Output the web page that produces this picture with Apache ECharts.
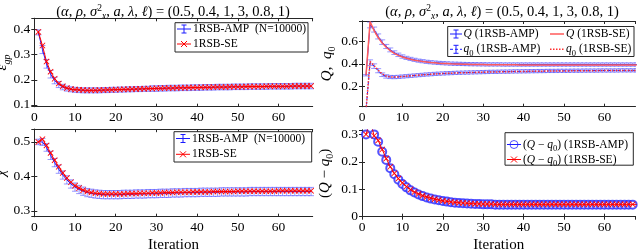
<!DOCTYPE html>
<html><head><meta charset="utf-8">
<script src="https://cdn.jsdelivr.net/npm/echarts@6/dist/echarts.min.js"></script>
<style>html,body{margin:0;padding:0;background:#fff}#c{width:640px;height:249px}</style>
</head><body><div id="c"></div>
<script>
// ---------------- data ----------------
const iterations = [1,2,3,4,5,6,7,8,9,10,11,12,13,14,15,16,17,18,19,20,21,22,23,24,25,26,27,28,29,30,
  31,32,33,34,35,36,37,38,39,40,41,42,43,44,45,46,47,48,49,50,51,52,53,54,55,56,57,58,59,60,
  61,62,63,64,65,66,67,68];

// top-left: eps_gp
const epsSE = [0.390,0.336,0.272,0.232,0.204,0.185,0.174,0.167,0.163,0.161,
  0.160,0.159,0.158,0.158,0.158,0.159,0.159,0.160,0.160,0.161,
  0.161,0.162,0.162,0.163,0.163,0.164,0.164,0.165,0.165,0.166,
  0.166,0.167,0.167,0.167,0.168,0.168,0.168,0.169,0.169,0.169,
  0.170,0.170,0.170,0.171,0.171,0.171,0.171,0.172,0.172,0.172,
  0.172,0.173,0.173,0.173,0.173,0.173,0.174,0.174,0.174,0.174,
  0.174,0.174,0.175,0.175,0.175,0.175,0.175,0.175];
const epsAMP = [0.388,0.320,0.263,0.222,0.197,0.181,0.171,0.165,0.162,0.160,
  0.159,0.158,0.158,0.158,0.158,0.158,0.159,0.159,0.160,0.160,
  0.161,0.161,0.162,0.162,0.163,0.163,0.164,0.164,0.165,0.165,
  0.166,0.166,0.167,0.167,0.167,0.168,0.168,0.168,0.169,0.169,
  0.169,0.170,0.170,0.170,0.171,0.171,0.171,0.171,0.172,0.172,
  0.172,0.172,0.173,0.173,0.173,0.173,0.173,0.174,0.174,0.174,
  0.174,0.174,0.174,0.175,0.175,0.175,0.175,0.175];
const epsAMPerr = [0.010,0.016,0.017,0.015,0.013,0.012,0.011,0.010,0.010,0.010,
  0.010,0.010,0.010,0.010,0.010,0.010,0.010,0.010,0.010,0.010,
  0.010,0.010,0.010,0.010,0.010,0.010,0.010,0.010,0.011,0.011,
  0.011,0.011,0.011,0.011,0.011,0.011,0.011,0.011,0.011,0.011,
  0.011,0.011,0.011,0.011,0.011,0.011,0.011,0.011,0.011,0.011,
  0.011,0.011,0.011,0.011,0.011,0.011,0.011,0.011,0.011,0.011,
  0.011,0.011,0.011,0.011,0.011,0.011,0.011,0.011];

// bottom-left: chi
const chiSE = [0.500,0.508,0.490,0.468,0.447,0.428,0.410,0.395,0.383,0.373,
  0.366,0.360,0.356,0.353,0.351,0.350,0.349,0.349,0.349,0.349,
  0.349,0.349,0.350,0.350,0.350,0.351,0.351,0.351,0.352,0.352,
  0.352,0.353,0.353,0.353,0.354,0.354,0.354,0.354,0.355,0.355,
  0.355,0.355,0.355,0.356,0.356,0.356,0.356,0.356,0.356,0.357,
  0.357,0.357,0.357,0.357,0.357,0.357,0.357,0.357,0.357,0.358,
  0.358,0.358,0.358,0.358,0.358,0.358,0.358,0.358];
const chiAMP = [0.500,0.500,0.484,0.461,0.440,0.421,0.404,0.390,0.378,0.369,
  0.362,0.357,0.353,0.351,0.349,0.348,0.347,0.347,0.347,0.347,
  0.347,0.348,0.348,0.348,0.349,0.349,0.349,0.350,0.350,0.350,
  0.351,0.351,0.351,0.352,0.352,0.352,0.353,0.353,0.353,0.353,
  0.354,0.354,0.354,0.354,0.354,0.355,0.355,0.355,0.355,0.355,
  0.355,0.355,0.356,0.356,0.356,0.356,0.356,0.356,0.356,0.356,
  0.356,0.356,0.356,0.356,0.356,0.356,0.356,0.356];
const chiAMPerr = [0.008,0.010,0.011,0.012,0.012,0.012,0.012,0.012,0.012,0.012,
  0.012,0.012,0.012,0.012,0.012,0.012,0.012,0.012,0.012,0.012,
  0.012,0.012,0.012,0.012,0.012,0.012,0.012,0.012,0.012,0.012,
  0.012,0.012,0.012,0.012,0.012,0.012,0.012,0.012,0.012,0.012,
  0.012,0.012,0.012,0.012,0.012,0.012,0.012,0.012,0.012,0.012,
  0.012,0.012,0.012,0.012,0.012,0.012,0.012,0.012,0.012,0.012,
  0.012,0.012,0.012,0.012,0.012,0.012,0.012,0.012];

// top-right: Q and q0
const QSE = [0.300,0.770,0.690,0.630,0.582,0.545,0.515,0.492,0.474,0.460,
  0.449,0.440,0.432,0.426,0.420,0.416,0.412,0.409,0.406,0.404,
  0.402,0.400,0.399,0.398,0.397,0.396,0.395,0.395,0.394,0.394,
  0.393,0.393,0.393,0.392,0.392,0.392,0.392,0.392,0.391,0.391,
  0.391,0.391,0.391,0.391,0.391,0.391,0.391,0.391,0.391,0.391,
  0.391,0.391,0.391,0.391,0.391,0.391,0.391,0.391,0.391,0.391,
  0.391,0.391,0.391,0.391,0.391,0.391,0.391,0.391];
const QAMP = [0.300,0.740,0.700,0.640,0.590,0.552,0.522,0.498,0.479,0.464,
  0.452,0.443,0.435,0.428,0.423,0.418,0.414,0.411,0.408,0.406,
  0.404,0.402,0.401,0.400,0.399,0.398,0.397,0.397,0.396,0.396,
  0.395,0.395,0.395,0.395,0.394,0.394,0.394,0.394,0.394,0.394,
  0.394,0.394,0.394,0.394,0.394,0.394,0.394,0.394,0.394,0.394,
  0.394,0.394,0.394,0.394,0.394,0.394,0.394,0.394,0.394,0.394,
  0.394,0.394,0.394,0.394,0.394,0.394,0.394,0.394];
const QAMPerr = [0.006,0.025,0.022,0.022,0.020,0.018,0.017,0.016,0.015,0.015,
  0.014,0.014,0.014,0.014,0.014,0.014,0.014,0.014,0.014,0.014,
  0.014,0.014,0.014,0.014,0.014,0.014,0.014,0.014,0.014,0.014,
  0.014,0.014,0.014,0.014,0.014,0.014,0.014,0.014,0.014,0.014,
  0.014,0.014,0.014,0.014,0.014,0.014,0.014,0.014,0.014,0.014,
  0.014,0.014,0.014,0.014,0.014,0.014,0.014,0.014,0.014,0.014,
  0.014,0.014,0.014,0.014,0.014,0.014,0.014,0.014];
const q0SE = [0.000,0.420,0.385,0.345,0.312,0.293,0.286,0.284,0.286,0.289,
  0.292,0.295,0.298,0.301,0.304,0.306,0.309,0.311,0.313,0.315,
  0.317,0.318,0.320,0.321,0.322,0.323,0.324,0.325,0.326,0.327,
  0.328,0.329,0.329,0.330,0.331,0.331,0.332,0.333,0.333,0.334,
  0.334,0.335,0.335,0.336,0.336,0.337,0.337,0.337,0.338,0.338,
  0.338,0.339,0.339,0.339,0.340,0.340,0.340,0.340,0.341,0.341,
  0.341,0.341,0.341,0.342,0.342,0.342,0.342,0.342];
const q0AMP = [0.000,0.410,0.380,0.340,0.305,0.290,0.285,0.284,0.286,0.289,
  0.292,0.295,0.298,0.301,0.304,0.307,0.309,0.312,0.314,0.316,
  0.318,0.319,0.321,0.322,0.323,0.324,0.325,0.326,0.327,0.328,
  0.329,0.330,0.330,0.331,0.332,0.332,0.333,0.334,0.334,0.335,
  0.335,0.336,0.336,0.337,0.337,0.338,0.338,0.338,0.339,0.339,
  0.339,0.340,0.340,0.340,0.341,0.341,0.341,0.341,0.342,0.342,
  0.342,0.342,0.342,0.343,0.343,0.343,0.343,0.343];
const q0AMPerr = [0.000,0.025,0.020,0.018,0.016,0.015,0.014,0.014,0.014,0.014,
  0.014,0.014,0.014,0.014,0.014,0.014,0.014,0.014,0.014,0.014,
  0.014,0.014,0.014,0.014,0.014,0.014,0.014,0.014,0.014,0.014,
  0.014,0.014,0.014,0.014,0.014,0.014,0.014,0.014,0.014,0.014,
  0.014,0.014,0.014,0.014,0.014,0.014,0.014,0.014,0.014,0.014,
  0.014,0.014,0.014,0.014,0.014,0.014,0.014,0.014,0.014,0.014,
  0.014,0.014,0.014,0.014,0.014,0.014,0.014,0.014];

// bottom-right: Q - q0
const diffAMP = [0.300,0.345,0.300,0.273,0.237,0.207,0.177,0.155,0.135,0.119,
  0.107,0.096,0.088,0.081,0.075,0.070,0.066,0.063,0.060,0.057,
  0.055,0.053,0.051,0.050,0.049,0.048,0.047,0.046,0.046,0.045,
  0.045,0.045,0.044,0.044,0.044,0.044,0.044,0.044,0.044,0.044,
  0.044,0.044,0.044,0.044,0.044,0.044,0.044,0.044,0.044,0.044,
  0.044,0.044,0.044,0.044,0.044,0.044,0.044,0.044,0.044,0.044,
  0.044,0.044,0.044,0.044,0.044,0.044,0.044,0.044];
const diffSE = [0.300,0.350,0.295,0.278,0.245,0.212,0.182,0.158,0.139,0.123,
  0.110,0.099,0.090,0.083,0.077,0.072,0.068,0.064,0.061,0.058,
  0.056,0.054,0.052,0.051,0.050,0.049,0.048,0.047,0.047,0.046,
  0.046,0.046,0.045,0.045,0.045,0.045,0.045,0.045,0.045,0.045,
  0.045,0.045,0.045,0.045,0.045,0.045,0.045,0.045,0.045,0.045,
  0.045,0.045,0.045,0.045,0.045,0.045,0.045,0.045,0.045,0.045,
  0.045,0.045,0.045,0.045,0.045,0.045,0.045,0.045];

const xTicks = [0,10,20,30,40,50,60];

// ---------------- chart ----------------
const FONT = '"Liberation Serif", "DejaVu Serif", serif';
const AX = '#262626';
const BLUE = '#1a1aff';
const EBLUE = 'rgba(70,70,255,0.55)';
const RED = '#ff0000';
const XPATH = 'path://M0,1L1,0L5,4L9,0L10,1L6,5L10,9L9,10L5,6L1,10L0,9L4,5Z';

const pts = arr => iterations.map((x,i)=>[x, arr[i]]);
const bars = (m,e) => iterations.map((x,i)=>[x, m[i]-e[i], m[i]+e[i]]);

function errRender(color){
  return function(params, api){
    const x = api.value(0), lo = api.value(1), hi = api.value(2);
    const a = api.coord([x, lo]), b = api.coord([x, hi]);
    const hw = 3, st = {stroke: color, lineWidth: 1};
    return {type:'group', children:[
      {type:'line', shape:{x1:a[0],y1:a[1],x2:b[0],y2:b[1]}, style:st},
      {type:'line', shape:{x1:a[0]-hw,y1:a[1],x2:a[0]+hw,y2:a[1]}, style:st},
      {type:'line', shape:{x1:b[0]-hw,y1:b[1],x2:b[0]+hw,y2:b[1]}, style:st}
    ]};
  };
}

const grids = [
  {left:34.3, top:18.3, width:278.4, height:88.4, outerBoundsMode:'none', containLabel:false},   // TL
  {left:362,  top:21,   width:273.5, height:85.7, outerBoundsMode:'none', containLabel:false},   // TR
  {left:34.3, top:129.2,width:278.4, height:87.5, outerBoundsMode:'none', containLabel:false},   // BL
  {left:362,  top:130,  width:273.5, height:86.7, outerBoundsMode:'none', containLabel:false}    // BR
];
const xMax = [68.4, 67.7, 68.4, 67.7];
const yRange = [[0.093,0.444,0.1],[0.025,0.775,0.2],[0.283,0.537,0.1],[0,0.316,0.1]];

const LF = 11.5;
const TF = 13.5;
const rich = {
  n:{fontFamily:FONT, fontSize:LF, color:'#000'},
  i:{fontFamily:FONT, fontSize:LF, fontStyle:'italic', color:'#000'},
  subn:{fontFamily:FONT, fontSize:8.5, color:'#000', verticalAlign:'bottom', lineHeight:17}
};
const nameRich = {
  n:{fontFamily:FONT, fontSize:15, color:'#000'},
  i:{fontFamily:FONT, fontSize:15, fontStyle:'italic', color:'#000'},
  sub:{fontFamily:FONT, fontSize:10, fontStyle:'italic', color:'#000', verticalAlign:'bottom', lineHeight:20},
  subn:{fontFamily:FONT, fontSize:10, color:'#000', verticalAlign:'bottom', lineHeight:20}
};
const yNames = ['{i|ε}{sub|gp}', '{i|Q}{n|,  }{i|q}{subn|0}', '{i|χ}', '{n|(}{i|Q}{n| − }{i|q}{subn|0}{n|)}'];
const yGaps = [22, 25, 26, 27];

const xAxis = [], yAxis = [];
grids.forEach((g, k) => {
  const base = {gridIndex:k, type:'value', min:0, max:xMax[k], minInterval:10, maxInterval:10,
    axisLine:{lineStyle:{color:AX, width:1}}, splitLine:{show:false},
    axisTick:{inside:true, length:3, lineStyle:{color:AX}}};
  xAxis.push(Object.assign({}, base, {position:'bottom',
    axisLabel:{color:'#000', fontFamily:FONT, fontSize:TF, margin:4, showMaxLabel:false},
    name: k>=2 ? 'Iteration' : '', nameLocation:'middle', nameGap:21, nameMoveOverlap:false,
    nameTextStyle:{fontFamily:FONT, fontSize:15, color:'#000'}}));
  xAxis.push(Object.assign({}, base, {position:'top', axisLabel:{show:false}}));
  const r = yRange[k];
  const ybase = {gridIndex:k, type:'value', min:r[0], max:r[1], minInterval:r[2], maxInterval:r[2],
    axisLine:{show:true, lineStyle:{color:AX, width:1}}, splitLine:{show:false},
    axisTick:{inside:true, length:3, lineStyle:{color:AX}}};
  yAxis.push(Object.assign({}, ybase, {position:'left',
    axisLabel:{color:'#000', fontFamily:FONT, fontSize:TF, margin:4, showMinLabel: k===3, showMaxLabel:false},
    name: yNames[k], nameLocation:'middle', nameRotate:90, nameGap:yGaps[k], nameMoveOverlap:false,
    nameTextStyle:{rich:nameRich}}));
  yAxis.push(Object.assign({}, ybase, {position:'right', axisLabel:{show:false}}));
});

const ax = k => ({xAxisIndex:2*k, yAxisIndex:2*k});
const series = [
  // TL
  Object.assign({type:'custom', name:'epsAMPerr', renderItem:errRender(EBLUE), data:bars(epsAMP, epsAMPerr), clip:true, z:1}, ax(0)),
  Object.assign({type:'line', name:'1RSB-AMP (N=10000)', data:pts(epsAMP), showSymbol:false, lineStyle:{color:BLUE, width:1}, clip:true, z:2}, ax(0)),
  Object.assign({type:'line', name:'1RSB-SE', data:pts(epsSE), symbol:XPATH, symbolSize:6, itemStyle:{color:RED}, lineStyle:{color:RED, width:1}, clip:true, z:3}, ax(0)),
  // TR
  Object.assign({type:'custom', name:'QAMPerr', renderItem:errRender(EBLUE), data:bars(QAMP, QAMPerr), clip:true, z:1}, ax(1)),
  Object.assign({type:'custom', name:'q0AMPerr', renderItem:errRender(EBLUE), data:bars(q0AMP, q0AMPerr), clip:true, z:1}, ax(1)),
  Object.assign({type:'line', name:'Q AMP', data:pts(QAMP), showSymbol:false, lineStyle:{color:BLUE, width:1}, clip:true, z:2}, ax(1)),
  Object.assign({type:'line', name:'q0 AMP', data:pts(q0AMP), showSymbol:false, lineStyle:{color:BLUE, width:1, type:[3,2]}, clip:true, z:2}, ax(1)),
  Object.assign({type:'line', name:'Q SE', data:pts(QSE), showSymbol:false, lineStyle:{color:'#ff5a5a', width:1.5}, clip:true, z:3}, ax(1)),
  Object.assign({type:'line', name:'q0 SE', data:pts(q0SE), showSymbol:false, lineStyle:{color:'#ff3030', width:1.5, type:[1.5,1.5]}, clip:true, z:3}, ax(1)),
  // BL
  Object.assign({type:'custom', name:'chiAMPerr', renderItem:errRender(EBLUE), data:bars(chiAMP, chiAMPerr), clip:true, z:1}, ax(2)),
  Object.assign({type:'line', name:'chi AMP', data:pts(chiAMP), showSymbol:false, lineStyle:{color:BLUE, width:1}, clip:true, z:2}, ax(2)),
  Object.assign({type:'line', name:'chi SE', data:pts(chiSE), symbol:XPATH, symbolSize:6, itemStyle:{color:RED}, lineStyle:{color:RED, width:1}, clip:true, z:3}, ax(2)),
  // BR
  Object.assign({type:'line', name:'diff AMP', data:pts(diffAMP), symbol:'emptyCircle', symbolSize:8, itemStyle:{color:'rgba(40,40,255,0.8)', borderWidth:1}, lineStyle:{color:BLUE, width:1}, clip:true, z:2}, ax(3)),
  Object.assign({type:'line', name:'diff SE', data:pts(diffSE), symbol:XPATH, symbolSize:6, itemStyle:{color:RED}, lineStyle:{color:RED, width:1}, clip:true, z:3}, ax(3))
];

// ---------------- legends / titles (graphic) ----------------
const g = [];
function title(cx, cy){
  g.push({type:'text', x:cx, y:cy, style:{text:'{n|(}{i|α}{n|, }{i|ρ}{n|, }{i|σ}{sup|2}{sub|x}{n|, }{i|a}{n|, }{i|λ}{n|, }{i|ℓ}{n|) = (0.5, 0.4, 1, 3, 0.8, 1)}',
    rich:{n:{fontFamily:FONT,fontSize:14.5,color:'#000'}, i:{fontFamily:FONT,fontSize:14.5,fontStyle:'italic',color:'#000'},
      sup:{fontFamily:FONT,fontSize:9.5,color:'#000',verticalAlign:'top',lineHeight:18},
      sub:{fontFamily:FONT,fontSize:9.5,fontStyle:'italic',color:'#000',verticalAlign:'bottom',lineHeight:18}},
    align:'center', verticalAlign:'middle'}});
}
title(173, 12.5);
title(502, 12.5);

function box(x,y,w,h){ g.push({type:'rect', shape:{x:x,y:y,width:w,height:h}, style:{fill:'#fff', stroke:AX, lineWidth:1}, z:10}); }
function seg(x1,y1,x2,y2,color,dash,w){ g.push({type:'line', shape:{x1,y1,x2,y2}, style:{stroke:color, lineWidth:w||1, lineDash:dash||null}, z:11}); }
function ebar(x,y,color){ seg(x,y-4,x,y+4,color); seg(x-2.5,y-4,x+2.5,y-4,color); seg(x-2.5,y+4,x+2.5,y+4,color); }
function xmark(x,y){ seg(x-3,y-3,x+3,y+3,RED); seg(x-3,y+3,x+3,y-3,RED); }
function txt(x,y,s){ g.push({type:'text', x:x, y:y, style:{text:s, rich:rich, fontFamily:FONT, fontSize:LF, fill:'#000', align:'left', verticalAlign:'middle'}, z:11}); }

// TL legend
box(175, 22.7, 133, 29.3);
seg(177,29,191,29,BLUE); ebar(184,29,BLUE); txt(193,29,'{n|1RSB-AMP  (N=10000)}');
seg(177,44,191,44,RED); xmark(184,44); txt(193,44,'{n|1RSB-SE}');
// BL legend
box(174, 131.7, 137.7, 30.3);
seg(176,138.5,190,138.5,BLUE); ebar(183,138.5,BLUE); txt(192,138.5,'{n|1RSB-AMP  (N=10000)}');
seg(176,154.3,190,154.3,RED); xmark(183,154.3); txt(192,154.3,'{n|1RSB-SE}');
// TR legend
box(447.7, 26.5, 186.3, 30);
seg(450,34,462,34,BLUE); ebar(456,34,BLUE); txt(463.5,34,'{i|Q}{n| (1RSB-AMP)}');
seg(550,34,564,34,'#ff5a5a',null,1.5); txt(566,34,'{i|Q}{n| (1RSB-SE)}');
seg(450,49.3,462,49.3,BLUE,[3,2]); ebar(456,49.3,BLUE); txt(463.5,49.3,'{i|q}{subn|0}{n| (1RSB-AMP)}');
seg(550,49.3,564,49.3,'#ff3030',[1.5,1.5],1.5); txt(566,49.3,'{i|q}{subn|0}{n| (1RSB-SE)}');
// BR legend
box(505, 132.7, 128.3, 32.5);
seg(507,144.5,521,144.5,BLUE); g.push({type:'circle', shape:{cx:514,cy:144.5,r:4}, style:{fill:'none', stroke:'rgba(40,40,255,0.8)', lineWidth:1}, z:12});
txt(523,144.5,'{n|(}{i|Q}{n| − }{i|q}{subn|0}{n|) (1RSB-AMP)}');
seg(507,159.5,521,159.5,RED); xmark(514,159.5); txt(523,159.5,'{n|(}{i|Q}{n| − }{i|q}{subn|0}{n|) (1RSB-SE)}');

const chart = echarts.init(document.getElementById('c'), null, {renderer:'canvas'});
chart.setOption({animation:false, backgroundColor:'#fff', grid:grids, xAxis:xAxis, yAxis:yAxis, series:series, graphic:g});
</script></body></html>
